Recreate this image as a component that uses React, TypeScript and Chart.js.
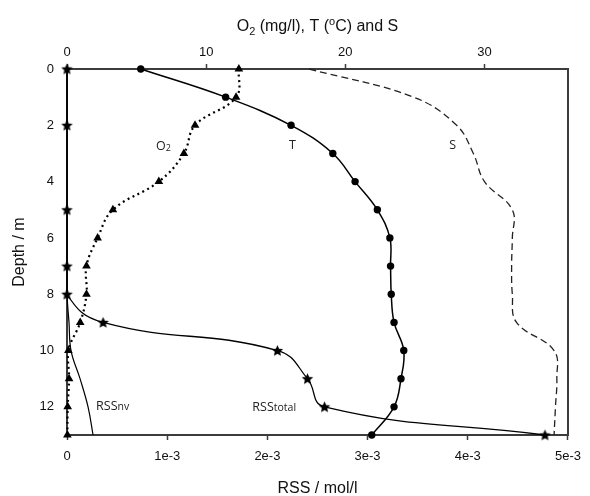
import React, { useEffect, useRef } from 'react';
import { Chart, registerables } from 'chart.js';

Chart.register(...registerables);

// ---- data ----
const DEPTHS = [0, 1, 2, 3, 4, 5, 6, 7, 8, 9, 10, 11, 12, 13];
const T_VALUES = [5.3, 11.4, 16.1, 19.1, 20.7, 22.3, 23.2, 23.25, 23.3, 23.5, 24.2, 24.0, 23.5, 21.9];
const O2_VALUES = [12.35, 12.15, 9.2, 8.4, 6.6, 3.3, 2.2, 1.4, 1.4, 0.95, 0.1, 0.15, 0.05, 0.03];
const S_VALUES = [17.4, 24.9, 28.0, 29.2, 30.0, 32.0, 32.0, 31.95, 32.0, 32.3, 35.0, 35.2, 35.1, 35.0];

const RSS_DEPTHS = [0, 2, 5, 7, 8, 9, 10, 11, 12, 13];
const RSS_TOTAL = [0, 0, 0, 0, 0, 0.00036, 0.0021, 0.0024, 0.00257, 0.00477];
const RSS_NV = [0, 0, 0, 0, 0, 0.00002, 0.00004, 0.00013, 0.00021, 0.00026];

const TOP_TICKS = [0, 10, 20, 30];
const TOP_LABELS = ['0', '10', '20', '30'];
const BOTTOM_TICKS = [0, 0.001, 0.002, 0.003, 0.004, 0.005];
const BOTTOM_LABELS = ['0', '1e-3', '2e-3', '3e-3', '4e-3', '5e-3'];
const DEPTH_TICKS = [0, 2, 4, 6, 8, 10, 12];
const DEPTH_LABELS = ['0', '2', '4', '6', '8', '10', '12'];

const TOP_MAX = 36;
const BOTTOM_MAX = 0.005;
const DEPTH_MAX = 13;

const AXIS_FONT = "'Liberation Sans', Arial, sans-serif";
const LABEL_FONT = "'Open Sans', 'Noto Sans', sans-serif";

type Run = { text: string; size: number; dy: number };

// in-plot series labels, anchored in axis units
const SERIES_LABELS: { axis: string; xv: number; depth: number; runs: Run[] }[] = [
  { axis: 'xTop', xv: 6.4, depth: 2.87, runs: [{ text: 'O', size: 12.5, dy: 0 }, { text: '2', size: 9, dy: 1 }] },
  { axis: 'xTop', xv: 15.95, depth: 2.85, runs: [{ text: 'T', size: 12.5, dy: 0 }] },
  { axis: 'xTop', xv: 27.47, depth: 2.85, runs: [{ text: 'S', size: 12.5, dy: 0 }] },
  { axis: 'x', xv: 0.00029, depth: 12.1, runs: [{ text: 'RSS', size: 12.5, dy: 0 }, { text: 'nv', size: 10.5, dy: 0 }] },
  { axis: 'x', xv: 0.00185, depth: 12.15, runs: [{ text: 'RSS', size: 12.5, dy: 0 }, { text: 'total', size: 10.5, dy: 0 }] },
];

function drawRuns(ctx: CanvasRenderingContext2D, runs: Run[], family: string, x: number, baseline: number, align: 'left' | 'center') {
  let total = 0;
  const widths = runs.map((r) => {
    ctx.font = `${r.size}px ${family}`;
    const w = ctx.measureText(r.text).width;
    total += w;
    return w;
  });
  let cx = align === 'center' ? x - total / 2 : x;
  runs.forEach((r, i) => {
    ctx.font = `${r.size}px ${family}`;
    ctx.fillText(r.text, cx, baseline + r.dy);
    cx += widths[i];
  });
}

function makeStar(): HTMLCanvasElement {
  const c = document.createElement('canvas');
  c.width = 13;
  c.height = 13;
  const g = c.getContext('2d')!;
  const cx = 6.5, cy = 6.9, ro = 6.0, ri = 2.8;
  g.beginPath();
  for (let i = 0; i < 10; i++) {
    const r = i % 2 === 0 ? ro : ri;
    const a = -Math.PI / 2 + (i * Math.PI) / 5;
    const px = cx + r * Math.cos(a);
    const py = cy + r * Math.sin(a);
    if (i === 0) g.moveTo(px, py);
    else g.lineTo(px, py);
  }
  g.closePath();
  g.fillStyle = '#000';
  g.fill();
  return c;
}

const decor = {
  id: 'decor',
  beforeDatasetsDraw(chart: any) {
    const { ctx, chartArea: a } = chart;
    ctx.save();
    ctx.strokeStyle = '#3c3c3c';
    ctx.lineWidth = 2;
    ctx.strokeRect(a.left, a.top, a.right - a.left, a.bottom - a.top);
    ctx.restore();
  },
  afterDraw(chart: any) {
    const { ctx, chartArea: a } = chart;
    const cx = (a.left + a.right) / 2;
    ctx.save();
    ctx.fillStyle = '#111';
    ctx.textBaseline = 'alphabetic';
    ctx.textAlign = 'left';
    // top axis title
    drawRuns(
      ctx,
      [
        { text: 'O', size: 16, dy: 0 },
        { text: '2', size: 11, dy: 4 },
        { text: ' (mg/l), T (', size: 16, dy: 0 },
        { text: 'o', size: 11, dy: -6 },
        { text: 'C) and S', size: 16, dy: 0 },
      ],
      AXIS_FONT,
      cx,
      31,
      'center'
    );
    // bottom axis title
    drawRuns(ctx, [{ text: 'RSS / mol/l', size: 16, dy: 0 }], AXIS_FONT, cx, 493, 'center');
    // y axis title
    ctx.save();
    ctx.translate(20, (a.top + a.bottom) / 2);
    ctx.rotate(-Math.PI / 2);
    ctx.textBaseline = 'middle';
    ctx.textAlign = 'center';
    ctx.font = `16px ${AXIS_FONT}`;
    ctx.fillText('Depth / m', 0, 0);
    ctx.restore();
    // series labels
    ctx.fillStyle = '#222';
    SERIES_LABELS.forEach((l) => {
      const xs = chart.scales[l.axis];
      const ys = chart.scales.y;
      drawRuns(ctx, l.runs, LABEL_FONT, xs.getPixelForValue(l.xv), ys.getPixelForValue(l.depth), 'left');
    });
    ctx.restore();
  },
};

export default function App() {
  const ref = useRef<HTMLCanvasElement>(null);

  useEffect(() => {
    const canvas = ref.current;
    if (!canvas) return;
    const star = makeStar();

    const tickFont = { family: AXIS_FONT, size: 13 };
    const chart = new Chart(canvas, {
      type: 'scatter',
      data: {
        datasets: [
          {
            label: 'RSStotal',
            xAxisID: 'x',
            yAxisID: 'y',
            data: RSS_DEPTHS.map((d, i) => ({ x: RSS_TOTAL[i], y: d })),
            showLine: true,
            borderColor: '#000',
            borderWidth: 1.3,
            tension: 0.45,
            pointStyle: star as any,
            pointRadius: 6,
            clip: false as any,
          },
          {
            label: 'RSSnv',
            xAxisID: 'x',
            yAxisID: 'y',
            data: RSS_DEPTHS.map((d, i) => ({ x: RSS_NV[i], y: d })),
            showLine: true,
            borderColor: '#000',
            borderWidth: 1.2,
            tension: 0.4,
            pointRadius: 0,
            clip: false as any,
          },
          {
            label: 'T',
            xAxisID: 'xTop',
            yAxisID: 'y',
            data: DEPTHS.map((d, i) => ({ x: T_VALUES[i], y: d })),
            showLine: true,
            borderColor: '#000',
            borderWidth: 1.5,
            tension: 0.4,
            pointStyle: 'circle',
            pointRadius: 3.7,
            pointBackgroundColor: '#000',
            pointBorderWidth: 0,
            clip: false as any,
          },
          {
            label: 'O2',
            xAxisID: 'xTop',
            yAxisID: 'y',
            data: DEPTHS.map((d, i) => ({ x: O2_VALUES[i], y: d })),
            showLine: true,
            borderColor: '#000',
            borderWidth: 2.2,
            borderDash: [2, 3.5],
            tension: 0.4,
            pointStyle: 'triangle',
            pointRadius: 5,
            pointBackgroundColor: '#000',
            pointBorderWidth: 0,
            clip: false as any,
          },
          {
            label: 'S',
            xAxisID: 'xTop',
            yAxisID: 'y',
            data: DEPTHS.map((d, i) => ({ x: S_VALUES[i], y: d })),
            showLine: true,
            borderColor: '#222',
            borderWidth: 1.3,
            borderDash: [7, 4],
            tension: 0.4,
            pointRadius: 0,
            clip: false as any,
          },
        ],
      },
      options: {
        responsive: false,
        animation: false,
        devicePixelRatio: 1,
        layout: { padding: { left: 0, top: 0, right: 14, bottom: 0 } },
        plugins: { legend: { display: false }, tooltip: { enabled: false } },
        scales: {
          x: {
            type: 'linear',
            position: 'bottom',
            min: 0,
            max: BOTTOM_MAX,
            afterFit: (s: any) => {
              s.height = 61;
            },
            afterBuildTicks: (s: any) => {
              s.ticks = BOTTOM_TICKS.map((v) => ({ value: v }));
            },
            ticks: {
              callback: (_v: any, i: number) => BOTTOM_LABELS[i],
              font: tickFont,
              color: '#111',
              padding: 9,
              maxRotation: 0,
              autoSkip: false,
            },
            grid: { display: true, drawOnChartArea: false, drawTicks: true, tickLength: 5, tickColor: '#3c3c3c', tickWidth: 1.5 },
            border: { display: false },
          },
          xTop: {
            type: 'linear',
            position: 'top',
            min: 0,
            max: TOP_MAX,
            afterFit: (s: any) => {
              s.height = 69;
            },
            afterBuildTicks: (s: any) => {
              s.ticks = TOP_TICKS.map((v) => ({ value: v }));
            },
            ticks: {
              callback: (_v: any, i: number) => TOP_LABELS[i],
              font: tickFont,
              color: '#111',
              padding: 4,
              maxRotation: 0,
              autoSkip: false,
            },
            grid: { display: true, drawOnChartArea: false, drawTicks: true, tickLength: 5, tickColor: '#3c3c3c', tickWidth: 1.5 },
            border: { display: false },
          },
          y: {
            type: 'linear',
            position: 'left',
            reverse: true,
            min: 0,
            max: DEPTH_MAX,
            afterFit: (s: any) => {
              s.width = 67;
            },
            afterBuildTicks: (s: any) => {
              s.ticks = DEPTH_TICKS.map((v) => ({ value: v }));
            },
            ticks: {
              callback: (_v: any, i: number) => DEPTH_LABELS[i],
              font: tickFont,
              color: '#111',
              padding: 13,
              autoSkip: false,
            },
            grid: { display: false, drawOnChartArea: false, drawTicks: false },
            border: { display: false },
          },
        },
      } as any,
      plugins: [decor],
    });

    return () => chart.destroy();
  }, []);

  return (
    <div style={{ position: 'fixed', left: 0, top: 0, width: 590, height: 496, background: '#fff' }}>
      <canvas ref={ref} width={590} height={496} style={{ display: 'block', width: 590, height: 496 }} />
    </div>
  );
}
